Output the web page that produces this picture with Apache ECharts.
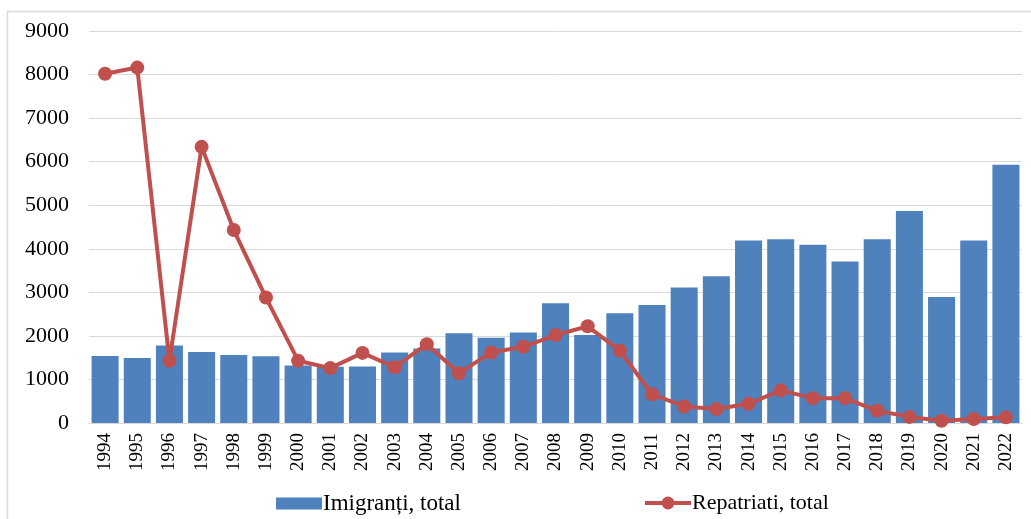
<!DOCTYPE html>
<html>
<head>
<meta charset="utf-8">
<script src="https://cdn.jsdelivr.net/npm/echarts@6/dist/echarts.min.js"></script>
<style>
html,body{margin:0;padding:0;background:#fff;}
#chart{width:1031px;height:519px;}
</style>
</head>
<body>
<div id="chart"></div>
<script>
var years = ['1994','1995','1996','1997','1998','1999','2000','2001','2002','2003','2004','2005','2006','2007','2008','2009','2010','2011','2012','2013','2014','2015','2016','2017','2018','2019','2020','2021','2022'];
var imigranti = [1540,1490,1780,1630,1560,1530,1320,1290,1300,1620,1710,2060,1960,2080,2750,2020,2520,2710,3110,3370,4190,4220,4090,3710,4220,4870,2890,4190,5930];
var repatriati = [8020,8160,1430,6340,4430,2880,1430,1260,1610,1280,1810,1140,1620,1750,2020,2220,1660,660,380,320,440,750,570,570,280,140,50,90,130];
var yTicks = [0,1000,2000,3000,4000,5000,6000,7000,8000,9000];
var seriesNames = ['Imigranți, total','Repatriati, total'];

var FONT = 'Liberation Serif';
var chart = echarts.init(document.getElementById('chart'), null, {renderer:'canvas'});
chart.setOption({
  backgroundColor:'#ffffff',
  animation:false,
  textStyle:{fontFamily:FONT,color:'#000'},
  graphic:[{
    type:'rect', silent:true,
    shape:{x:7.5,y:11.5,width:1040,height:540},
    style:{fill:null,stroke:'#d9d9d9',lineWidth:1.5}
  }],
  grid:{left:89,right:9,top:31,bottom:96,containLabel:false},
  legend:[{
    data:[{name:seriesNames[0],icon:'rect'}], left:271, top:487,
    itemWidth:46, itemHeight:12, itemGap:0,
    textStyle:{fontFamily:FONT,fontSize:23,color:'#000',padding:[0,0,0,-4]}
  },{
    data:[seriesNames[1]], left:638, top:487,
    itemWidth:46, itemHeight:16, itemGap:0,
    lineStyle:{width:4},
    textStyle:{fontFamily:FONT,fontSize:22,color:'#000',padding:[0,0,0,-4]}
  }],
  xAxis:{
    type:'category', data:years,
    axisLine:{lineStyle:{color:'#d9d9d9',width:1}},
    axisTick:{show:false},
    axisLabel:{rotate:90,fontFamily:FONT,fontSize:19,color:'#000',margin:10,interval:0}
  },
  yAxis:{
    type:'value', min:0, max:9000, interval:1000,
    axisLine:{show:false}, axisTick:{show:false},
    splitLine:{lineStyle:{color:'#d9d9d9',width:1}},
    axisLabel:{fontFamily:FONT,fontSize:22,color:'#000',margin:20,
      formatter:function(v){return yTicks.indexOf(v)>=0?String(v):'';}}
  },
  series:[{
    name:seriesNames[0], type:'bar', data:imigranti,
    barCategoryGap:'16%',
    itemStyle:{color:'#4f81bd'}
  },{
    name:seriesNames[1], type:'line', data:repatriati,
    symbol:'circle', symbolSize:14,
    lineStyle:{color:'#c0504d',width:4},
    itemStyle:{color:'#c0504d'}
  }]
});
</script>
</body>
</html>
